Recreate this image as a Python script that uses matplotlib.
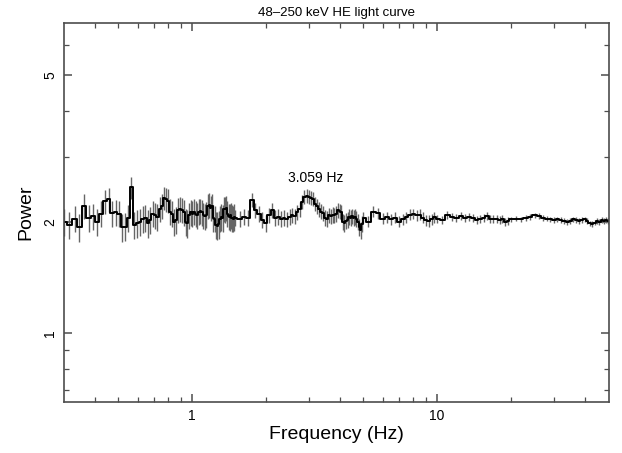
import numpy as np
import matplotlib
matplotlib.use('Agg')
import matplotlib.pyplot as plt
from matplotlib.ticker import FixedLocator, NullFormatter

plt.rcParams['font.family'] = ['Liberation Sans', 'DejaVu Sans']

# low frequencies: bins of 1/64 Hz from 0.30 Hz
freq_a = 0.30 + np.arange(77) / 64.0
power_a = [2.00, 1.96, 2.04, 1.93, 2.20, 2.05, 2.07, 2.00, 2.10, 2.27,
           2.30, 2.11, 2.12, 2.10, 1.93, 1.94, 2.05, 2.48, 1.96, 1.98,
           2.00, 2.03, 2.05, 1.98, 2.02, 2.10, 2.08, 2.06, 2.17, 2.20,
           2.32, 2.30, 2.28, 2.13, 2.10, 2.00, 2.02, 2.15, 2.17, 2.15,
           2.12, 2.00, 1.98, 2.08, 2.12, 2.10, 2.13, 2.10, 2.08, 2.13,
           2.14, 2.12, 2.08, 2.07, 2.09, 2.20, 2.22, 2.18, 2.20, 2.05,
           2.04, 1.96, 1.95, 1.97, 2.04, 2.06, 2.05, 2.17, 2.16, 2.18,
           2.10, 2.07, 2.06, 2.08, 2.05, 2.04, 2.06]
err_a = 0.17

# 1.5 - 5 Hz: bins of 1/16 Hz
freq_b = 1.5 + np.arange(56) / 16.0
power_b = [2.05, 2.04, 2.06, 2.05, 2.29, 2.15, 2.10, 2.02, 1.98, 2.08,
           2.15, 2.05, 2.06, 2.04, 2.05, 2.03, 2.06, 2.08, 2.07, 2.12,
           2.16, 2.26, 2.33, 2.35, 2.34, 2.32, 2.30, 2.24, 2.20, 2.16,
           2.13, 2.11, 2.05, 2.04, 2.08, 2.07, 2.09, 2.08, 2.10, 2.15,
           2.14, 2.12, 2.00, 1.98, 2.01, 2.02, 2.06, 2.05, 2.07, 2.05,
           2.06, 2.04, 2.00, 1.93, 1.90, 1.97]
err_b = 0.10

# 5 - 10 Hz
freq_c = 5.0 + np.arange(20) * 0.25
power_c = [2.05, 2.00, 2.13, 2.11, 2.04, 2.06, 2.03, 2.05, 2.00, 2.03,
           2.06, 2.09, 2.10, 2.08, 2.09, 2.05, 2.02, 2.01, 2.03, 2.06]
err_c = 0.07

# 10 - 20 Hz
freq_d = 10.0 + np.arange(20) * 0.5
power_d = [2.04, 2.02, 2.09, 2.06, 2.05, 2.07, 2.05, 2.06, 2.05, 2.02,
           2.03, 2.05, 2.07, 2.03, 2.04, 2.03, 2.02, 2.03, 2.00, 2.01]
err_d = 0.05

# 20 - 50 Hz
freq_e = 20.0 + np.arange(31) * 1.0
power_e = [2.03, 2.04, 2.03, 2.05, 2.06, 2.08, 2.07, 2.05, 2.04, 2.03,
           2.02, 2.03, 2.02, 2.01, 2.00, 2.01, 2.03, 2.02, 2.01, 2.02,
           2.03, 2.01, 1.98, 1.97, 1.99, 2.01, 2.00, 2.02, 2.01, 2.02, 2.01]
err_e = 0.035

segments = [(freq_a, power_a, err_a), (freq_b, power_b, err_b),
            (freq_c, power_c, err_c), (freq_d, power_d, err_d),
            (freq_e, power_e, err_e)]

fig = plt.figure(figsize=(6.22, 4.53), dpi=100)
ax = fig.add_axes([0.1029, 0.1126, 0.8767, 0.8365])

freq = np.concatenate([s[0] for s in segments])
power = np.concatenate([np.asarray(s[1]) for s in segments])
err = np.concatenate([np.full(len(s[0]), s[2]) for s in segments])

ax.errorbar(freq, power, yerr=err, fmt='none', ecolor='0.4', elinewidth=1.0)
ax.plot(freq, power, color='black', lw=1.4, drawstyle='steps-mid')

ax.set_xscale('log')
ax.set_yscale('log')
ax.set_xlim(0.3, 50.5)
ax.set_ylim(0.65, 6.9)

ax.xaxis.set_major_locator(FixedLocator([1, 10]))
ax.set_xticklabels(['1', '10'])
ax.xaxis.set_minor_locator(FixedLocator([0.4, 0.5, 0.6, 0.7, 0.8, 0.9,
                                         2, 3, 4, 5, 6, 7, 8, 9, 20, 30, 40]))
ax.xaxis.set_minor_formatter(NullFormatter())
ax.yaxis.set_major_locator(FixedLocator([1, 2, 5]))
ax.set_yticklabels(['1', '2', '5'], rotation=90, va='center')
ax.yaxis.set_minor_locator(FixedLocator([0.7, 0.8, 0.9, 3, 4, 6]))
ax.yaxis.set_minor_formatter(NullFormatter())

ax.tick_params(which='both', direction='in', top=True, right=True,
               labelsize=10, color='0.3')
ax.tick_params(which='major', length=6, width=1.1, pad=5)
ax.tick_params(which='minor', length=3.5, width=0.9)
for sp in ax.spines.values():
    sp.set_color('0.3')
    sp.set_linewidth(1.2)

ax.set_xlabel('Frequency (Hz)', fontsize=14, labelpad=2)
ax.set_ylabel('Power', fontsize=14, labelpad=6)
ax.set_title('48\u2013250 keV HE light curve', fontsize=9.5, pad=5)
ax.text(3.2, 2.63, '3.059 Hz', fontsize=10, ha='center', va='center')

fig.savefig('out.png', dpi=100)
